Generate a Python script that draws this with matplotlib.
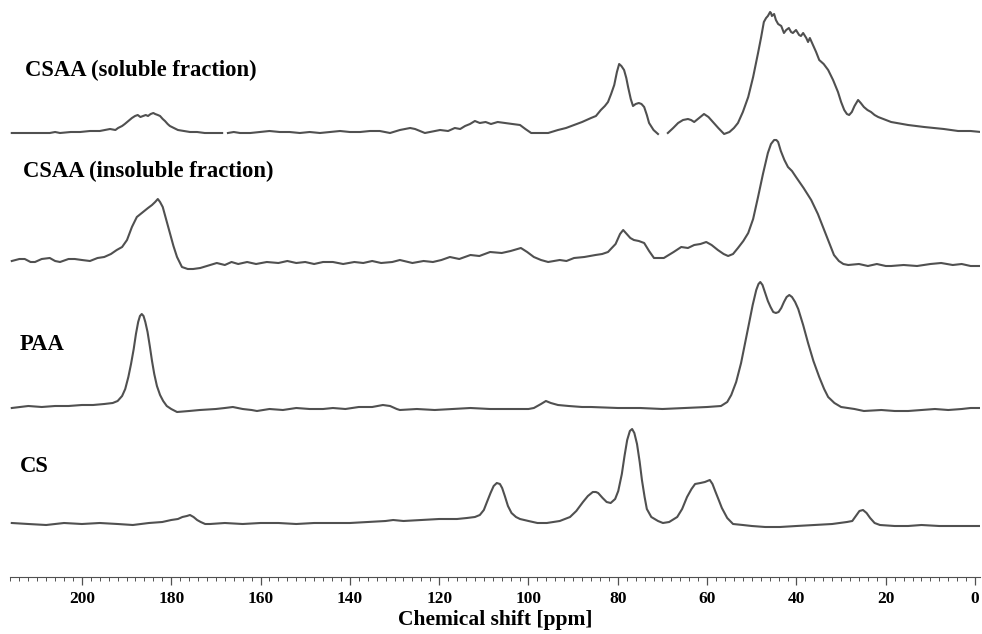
import numpy as np
import matplotlib
matplotlib.use("Agg")
import matplotlib.pyplot as plt
from matplotlib.ticker import MultipleLocator

nan = np.nan

# each trace: (chemical shift in ppm, intensity above its own baseline); NaN = break in trace
soluble = [
    (215.7, -1), (212.5, -1), (209.0, -1), (207.2, -1), (206.0, 0), (204.9, -1), (202.5, 0),
    (200.4, 0), (198.2, 1), (196.0, 1), (194.8, 2), (193.7, 3), (192.5, 2), (191.9, 4),
    (191.0, 6), (190.4, 8), (189.6, 11), (188.8, 14), (188.1, 16), (187.5, 17), (186.9, 15),
    (186.3, 16), (185.7, 17), (185.2, 16), (184.6, 18), (184.0, 19), (183.6, 18), (183.0, 17),
    (182.5, 16), (181.9, 13), (181.4, 11), (180.8, 8), (180.3, 6), (179.4, 4), (178.5, 2),
    (177.2, 1), (175.8, 0), (174.2, 0), (172.5, -1), (170.5, -1), (168.6, -1), (nan, nan),
    (167.3, -1), (166.0, 0), (164.6, -1), (162.3, -1), (160.1, 0), (158.0, 1), (155.7, 0),
    (153.5, 0), (151.2, -1), (149.0, 0), (146.7, -1), (144.5, 0), (142.2, 1), (140.0, 0),
    (137.7, 0), (135.5, 1), (133.3, 1), (131.0, -1), (128.8, 2), (127.6, 3), (126.5, 4),
    (125.4, 3), (124.3, 1), (123.2, -1), (122.1, 0), (121.0, 1), (119.8, 2), (118.0, 1),
    (116.5, 4), (115.3, 3), (114.2, 6), (113.1, 8), (112.0, 11), (110.9, 9), (109.6, 10),
    (108.4, 8), (106.9, 10), (105.3, 9), (103.6, 8), (101.9, 7), (100.7, 3), (99.4, -1),
    (97.5, -1), (95.6, -1), (93.4, 2), (91.6, 4), (89.8, 7), (88.0, 10), (86.0, 14),
    (84.9, 16), (83.8, 22), (82.9, 26), (82.2, 30), (81.5, 38), (80.8, 47), (80.2, 60),
    (79.7, 68), (79.2, 66), (78.6, 62), (78.1, 54), (77.7, 45), (77.1, 33), (76.6, 26),
    (76.0, 28), (75.3, 29), (74.7, 28), (74.1, 25), (73.5, 17), (73.0, 9), (72.0, 2),
    (71.0, -2), (nan, nan), (68.8, -1), (67.6, 4), (66.5, 9), (65.4, 12), (64.3, 13),
    (63.6, 12), (62.9, 10), (61.8, 14), (60.7, 18), (59.7, 15), (58.7, 10), (57.5, 4),
    (56.2, -2), (55.0, 0), (54.0, 4), (53.1, 9), (52.0, 20), (50.8, 35), (49.7, 55),
    (48.6, 79), (47.9, 95), (47.3, 110), (46.8, 114), (46.4, 116), (45.9, 120), (45.7, 119),
    (45.5, 116), (45.0, 118), (44.6, 112), (44.1, 108), (43.4, 106), (42.8, 99), (42.3, 102),
    (41.7, 104), (41.2, 100), (40.8, 99), (40.1, 102), (39.4, 97), (39.0, 96), (38.5, 99),
    (37.8, 94), (37.4, 90), (37.0, 94), (36.3, 87), (35.6, 80), (34.9, 72), (33.9, 68),
    (32.9, 62), (31.8, 52), (30.7, 40), (30.0, 30), (29.3, 22), (28.7, 18), (28.2, 17),
    (27.6, 20), (27.0, 26), (26.2, 32), (25.6, 29), (24.9, 25), (24.1, 22), (23.3, 20),
    (22.5, 17), (21.7, 15), (20.0, 12), (18.8, 10), (15.0, 7), (11.4, 5), (7.0, 3),
    (3.8, 1), (1.0, 1), (-1.3, 0),
]

insoluble = [
    (215.7, 3), (214.0, 5), (212.8, 5), (211.5, 2), (210.5, 2), (209.0, 5), (207.2, 6),
    (206.0, 3), (204.9, 2), (203.0, 5), (201.6, 5), (200.0, 4), (198.2, 3), (196.5, 6),
    (195.0, 7), (193.5, 10), (192.2, 14), (191.0, 17), (189.9, 24), (188.8, 37), (187.7, 47),
    (186.3, 52), (185.2, 56), (184.3, 59), (183.6, 62), (183.0, 65), (182.5, 62), (181.9, 57),
    (181.1, 44), (180.3, 31), (179.5, 18), (178.7, 7), (177.6, -3), (176.3, -5), (175.1, -5),
    (173.5, -4), (172.0, -2), (170.5, 0), (169.8, 1), (168.0, -1), (166.5, 2), (165.0, 0),
    (163.0, 2), (161.0, 0), (158.6, 2), (156.0, 1), (154.0, 3), (152.0, 1), (150.0, 2),
    (148.0, 0), (146.0, 2), (143.8, 2), (141.5, 0), (139.0, 2), (137.0, 1), (135.0, 3),
    (133.0, 1), (130.5, 2), (128.8, 4), (126.0, 1), (123.5, 3), (121.4, 2), (119.5, 4),
    (117.6, 7), (115.5, 5), (113.0, 9), (111.0, 8), (108.6, 12), (106.0, 11), (104.0, 13),
    (101.7, 16), (100.3, 12), (98.8, 7), (97.2, 4), (95.6, 2), (93.0, 4), (91.5, 3),
    (89.8, 6), (87.5, 7), (85.0, 9), (83.5, 10), (82.2, 12), (80.5, 20), (79.5, 30),
    (78.8, 34), (78.0, 30), (77.2, 26), (76.4, 24), (75.3, 23), (74.1, 21), (73.0, 13),
    (71.9, 6), (69.7, 6), (67.5, 12), (65.8, 17), (64.3, 16), (62.9, 19), (61.5, 20),
    (60.2, 22), (59.0, 19), (57.6, 14), (56.3, 10), (55.3, 8), (54.2, 10), (53.1, 16),
    (51.9, 23), (50.8, 31), (49.7, 45), (48.6, 67), (47.5, 90), (46.4, 111), (45.7, 120),
    (45.0, 124), (44.5, 124), (44.1, 122), (43.5, 113), (42.7, 104), (41.9, 97), (41.0, 93),
    (40.1, 87), (38.4, 76), (36.7, 64), (35.2, 50), (33.8, 34), (32.6, 20), (31.6, 9),
    (30.5, 3), (29.5, 0), (28.4, -1), (26.0, 0), (24.0, -2), (22.0, 0), (20.0, -2),
    (18.8, -2), (16.0, -1), (13.0, -2), (10.0, 0), (7.6, 1), (5.0, -1), (3.0, 0),
    (1.0, -2), (-1.3, -2),
]

paa = [
    (215.7, 1), (212.0, 3), (209.0, 2), (206.0, 3), (203.0, 3), (200.0, 4), (197.5, 4),
    (195.0, 5), (193.1, 6), (192.0, 8), (191.0, 13), (190.3, 20), (189.6, 32), (189.0, 45),
    (188.4, 60), (187.9, 75), (187.4, 87), (187.0, 93), (186.6, 95), (186.2, 93), (185.8, 87),
    (185.3, 77), (184.8, 63), (184.3, 48), (183.8, 35), (183.2, 23), (182.5, 14), (181.8, 8),
    (181.0, 3), (180.0, 0), (178.7, -3), (176.0, -2), (173.6, -1), (170.0, 0), (168.0, 1),
    (166.2, 2), (164.0, 0), (162.0, -1), (160.8, -2), (158.0, 0), (155.0, -1), (152.0, 1),
    (149.0, 0), (146.0, 0), (143.8, 1), (141.0, 0), (138.0, 2), (135.0, 2), (132.6, 4),
    (131.0, 3), (129.5, 0), (128.8, -1), (125.0, 0), (121.0, -1), (117.0, 0), (113.0, 1),
    (108.6, 0), (104.0, 0), (100.0, 0), (98.8, 1), (97.2, 5), (96.1, 8), (95.0, 6),
    (93.4, 4), (91.0, 3), (88.0, 2), (86.0, 2), (80.0, 1), (75.0, 1), (70.0, 0), (65.0, 1),
    (60.0, 2), (56.9, 3), (55.5, 7), (54.6, 14), (53.5, 27), (52.4, 46), (51.5, 66),
    (50.6, 86), (49.8, 104), (49.0, 119), (48.5, 125), (48.1, 127), (47.6, 124), (47.0, 116),
    (46.4, 108), (45.8, 102), (45.2, 97), (44.6, 96), (44.0, 97), (43.4, 101), (42.8, 107),
    (42.2, 112), (41.6, 114), (41.0, 112), (40.3, 107), (39.6, 100), (38.5, 84), (37.4, 66),
    (36.2, 48), (34.9, 32), (33.8, 20), (32.9, 12), (31.5, 6), (30.0, 2), (27.0, 0),
    (24.9, -2), (21.0, -1), (18.0, -2), (15.0, -2), (12.0, -1), (9.0, 0), (6.0, -1),
    (3.0, 0), (1.0, 1), (-1.3, 1),
]

cs = [
    (215.7, 1), (212.0, 0), (208.0, -1), (204.0, 1), (200.0, 0), (196.0, 1), (192.0, 0),
    (188.6, -1), (185.0, 1), (182.0, 2), (180.0, 4), (178.5, 5), (177.5, 7), (176.5, 8),
    (175.8, 9), (175.0, 7), (174.2, 4), (173.4, 2), (172.4, 0), (171.3, 0), (168.0, 1),
    (164.0, 0), (160.0, 1), (156.0, 1), (152.0, 0), (148.0, 1), (143.8, 1), (140.0, 1),
    (136.0, 2), (132.0, 3), (130.3, 4), (128.0, 3), (124.0, 4), (120.0, 5), (116.0, 5),
    (113.8, 6), (112.0, 7), (110.9, 9), (110.0, 14), (109.3, 22), (108.5, 31), (107.8, 38),
    (107.1, 41), (106.4, 40), (105.9, 36), (105.3, 28), (104.6, 18), (103.8, 11), (102.8, 7),
    (101.9, 5), (100.0, 3), (98.0, 1), (95.9, 1), (93.0, 3), (90.7, 7), (89.3, 13),
    (87.8, 22), (86.7, 28), (85.6, 32), (84.9, 32), (84.4, 31), (83.4, 26), (82.5, 22),
    (81.6, 21), (80.6, 25), (79.9, 33), (79.1, 50), (78.5, 68), (77.9, 84), (77.3, 93),
    (76.8, 95), (76.3, 91), (75.7, 80), (75.1, 62), (74.6, 44), (74.0, 27), (73.5, 15),
    (72.5, 7), (71.0, 3), (69.9, 1), (68.5, 2), (66.7, 7), (65.6, 15), (64.5, 27),
    (63.5, 35), (62.7, 40), (61.5, 41), (60.5, 42), (59.4, 44), (58.8, 40), (58.2, 33),
    (57.4, 24), (56.7, 16), (55.5, 6), (54.2, 0), (52.0, -1), (50.0, -2), (47.0, -3),
    (43.7, -3), (40.0, -2), (36.0, -1), (32.0, 0), (28.7, 2), (27.5, 3), (26.7, 8),
    (25.9, 13), (25.1, 14), (24.3, 11), (23.5, 6), (22.5, 1), (21.3, -1), (18.0, -2),
    (15.0, -2), (12.0, -1), (8.0, -2), (4.0, -2), (-1.6, -2),
]

labels = ["CSAA (soluble fraction)", "CSAA (insoluble fraction)", "PAA", "CS"]
offsets = [445, 313, 168, 53]
label_pos = [(25, 507), (23, 406), (20, 232), (20, 111)]

plt.rcParams["font.family"] = ["Liberation Serif", "DejaVu Serif"]

fig = plt.figure(figsize=(9.82, 6.34), dpi=100)
ax = fig.add_axes([10 / 982, 57 / 634, 970 / 982, 577 / 634])

line_color = "#505050"
for trace, off in zip([soluble, insoluble, paa, cs], offsets):
    arr = np.array(trace, dtype=float)
    ax.plot(arr[:, 0], arr[:, 1] + off, color=line_color, lw=1.5)

px_per_ppm = 4.465
for text, (lx, ly) in zip(labels, label_pos):
    ax.text((975 - lx) / px_per_ppm, ly, text, fontsize=16.3, fontweight="bold",
            ha="left", va="center", color="black")

ax.set_xlim(216.1, -1.1)
ax.set_ylim(0, 577)
ax.xaxis.set_major_locator(MultipleLocator(20))
ax.xaxis.set_minor_locator(MultipleLocator(2))
ax.tick_params(axis="x", which="major", length=6, width=0.9, color=line_color,
               labelsize=12.5, pad=4)
ax.tick_params(axis="x", which="minor", length=3, width=0.7, color=line_color)
for lab in ax.get_xticklabels():
    lab.set_fontweight("bold")
ax.set_yticks([])
ax.spines[["top", "right", "left"]].set_visible(False)
ax.spines["bottom"].set_color(line_color)
ax.set_xlabel("Chemical shift [ppm]", fontsize=15.5, fontweight="bold", labelpad=2)

fig.savefig("out.png", dpi=100, facecolor="white")
